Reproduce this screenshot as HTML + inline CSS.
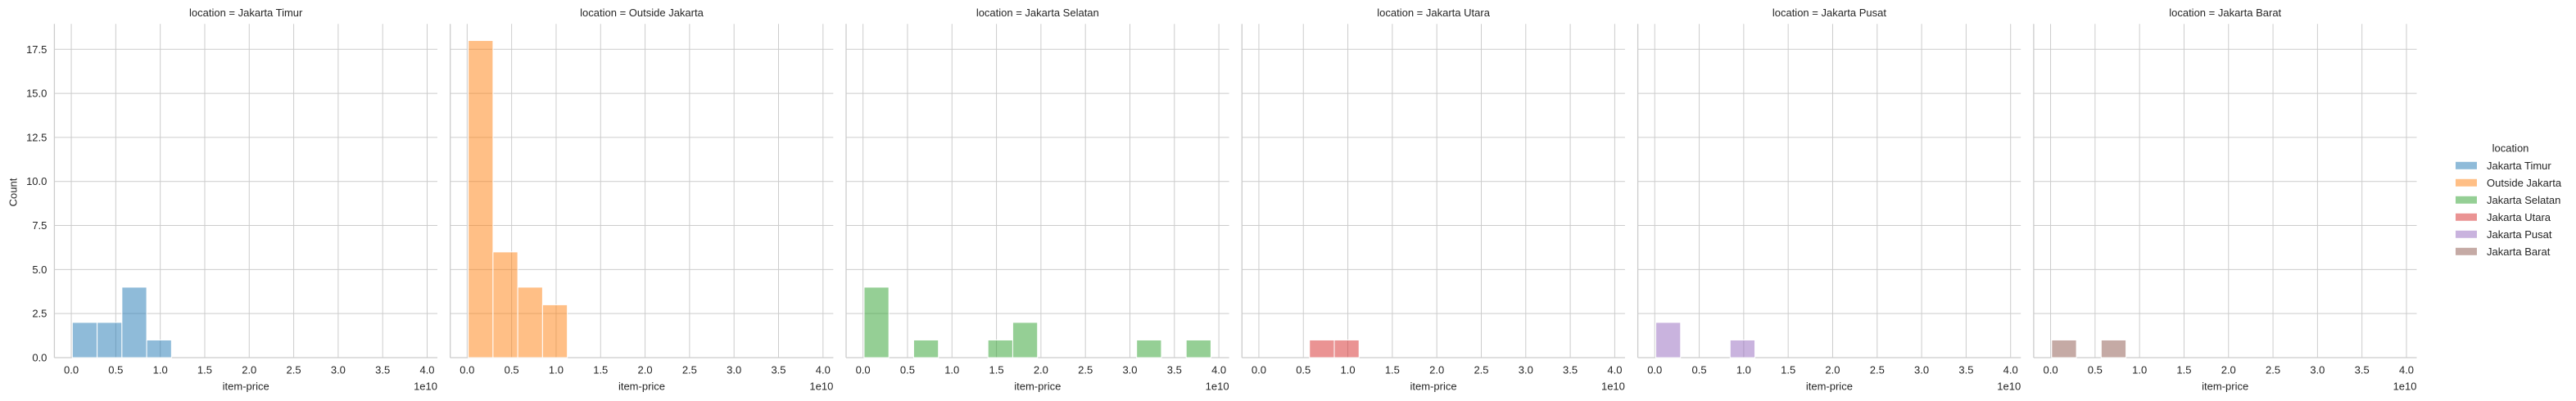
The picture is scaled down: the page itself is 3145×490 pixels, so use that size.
<!DOCTYPE html>
<html><head><meta charset="utf-8"><style>
html,body{margin:0;padding:0;background:#fff;}
svg{display:block;font-family:"Liberation Sans",Arial,sans-serif;}
</style></head><body>
<svg id="chart" width="3145" height="490" viewBox="0 0 3145 490" xmlns="http://www.w3.org/2000/svg"></svg>
<script>
const locations = ["Jakarta Timur","Outside Jakarta","Jakarta Selatan","Jakarta Utara","Jakarta Pusat","Jakarta Barat"];
const colors = ["#1f77b4","#ff7f0e","#2ca02c","#d62728","#9467bd","#8c564b"];
const binStart = 0.012;
const binWidth = 0.2785;
const countsTimur = [2,2,4,1];
const countsOutside = [18,6,4,3];
const countsSelatan = [4,0,1,0,0,1,2,0,0,0,0,1,0,1];
const countsUtara = [0,0,1,1];
const countsPusat = [2,0,0,1];
const countsBarat = [1,0,1];
const xTicks = [0,0.5,1,1.5,2,2.5,3,3.5,4];
const xTickLabels = ["0.0","0.5","1.0","1.5","2.0","2.5","3.0","3.5","4.0"];
const yTicks = [0,2.5,5,7.5,10,12.5,15,17.5];
const yTickLabels = ["0.0","2.5","5.0","7.5","10.0","12.5","15.0","17.5"];
const allCounts = [countsTimur,countsOutside,countsSelatan,countsUtara,countsPusat,countsBarat];

const svg = document.getElementById('chart');
const NS = "http://www.w3.org/2000/svg";
function mk(tag, attrs){const e=document.createElementNS(NS,tag);for(const k in attrs)e.setAttribute(k,attrs[k]);return e;}
const axTop=29.3, axBottom=437, axW=467.6, step=483.3, firstLeft=66.4;
const xMin=-0.19, xMax=4.115, yMax=18.94;
const textColor="#262626", gridColor="#cccccc";

for(let p=0;p<6;p++){
  const left = firstLeft + p*step;
  const sx = v => left + (v - xMin)/(xMax - xMin)*axW;
  const sy = v => axBottom - v/yMax*(axBottom-axTop);
  const g = mk('g',{});
  
  
  svg.appendChild(g);
  // grid
  yTicks.forEach((t,i)=>{
    const l=mk('line',{x1:left,x2:left+axW,y1:sy(t),y2:sy(t),stroke:gridColor,'stroke-width':1});
    
    
    g.appendChild(l);
    if(p===0){
      const tx=mk('text',{x:left-9,y:sy(t)+4.5,'text-anchor':'end','font-size':13,fill:textColor});
      tx.textContent=yTickLabels[i];
      
      
      g.appendChild(tx);
    }
  });
  xTicks.forEach((t,i)=>{
    const l=mk('line',{x1:sx(t),x2:sx(t),y1:axTop,y2:axBottom,stroke:gridColor,'stroke-width':1});
    
    
    g.appendChild(l);
    const tx=mk('text',{x:sx(t),y:456.5,'text-anchor':'middle','font-size':13,fill:textColor});
    tx.textContent=xTickLabels[i];
    
    
    g.appendChild(tx);
  });
  // spines
  const sl=mk('line',{x1:left,x2:left,y1:axTop,y2:axBottom,stroke:gridColor,'stroke-width':1.3});
  
  
  g.appendChild(sl);
  const sb=mk('line',{x1:left,x2:left+axW,y1:axBottom,y2:axBottom,stroke:gridColor,'stroke-width':1.3});
  
  
  g.appendChild(sb);
  // bars
  allCounts[p].forEach((c,i)=>{
    if(c<=0) return;
    const x0=binStart+i*binWidth, x1=x0+binWidth;
    const r=mk('rect',{x:sx(x0),y:sy(c),width:sx(x1)-sx(x0),height:axBottom-sy(c),fill:colors[p],'fill-opacity':0.5,stroke:'#ffffff','stroke-width':1});
    
    
    g.appendChild(r);
  });
  // title
  const tt=mk('text',{x:left+axW/2,y:20,'text-anchor':'middle','font-size':13,fill:textColor});
  tt.textContent='location = '+locations[p];
  
  
  g.appendChild(tt);
  const xl=mk('text',{x:left+axW/2,y:476.5,'text-anchor':'middle','font-size':13,fill:textColor});
  xl.textContent='item-price';
  
  
  g.appendChild(xl);
  const off=mk('text',{x:left+axW,y:476.5,'text-anchor':'end','font-size':13,fill:textColor});
  off.textContent='1e10';
  
  
  g.appendChild(off);
}
// y title
const yt=mk('text',{x:0,y:0,'text-anchor':'middle','font-size':13,fill:textColor,transform:'translate(20.5,235) rotate(-90)'});
yt.textContent='Count';


svg.appendChild(yt);
// legend
const lg=mk('g',{});


svg.appendChild(lg);
const lt=mk('text',{x:3065,y:185.5,'text-anchor':'middle','font-size':13,fill:textColor});
lt.textContent='location';


lg.appendChild(lt);
locations.forEach((loc,i)=>{
  const y=202.3+i*21;
  const r=mk('rect',{x:2998,y:y-4.5,width:26,height:9,fill:colors[i],'fill-opacity':0.5});
  
  
  lg.appendChild(r);
  const t=mk('text',{x:3036,y:y+4.5,'font-size':13,fill:textColor});
  t.textContent=loc;
  
  
  lg.appendChild(t);
});
</script>
</body></html>
